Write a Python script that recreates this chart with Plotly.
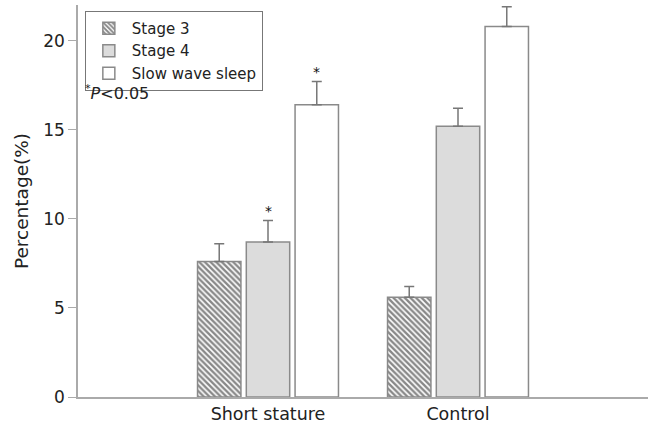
import plotly.graph_objects as go

groups = ["Short stature", "Control"]
group_x = [1, 2]
series = ["Stage 3", "Stage 4", "Slow wave sleep"]
means = {
    "Stage 3": [7.6, 5.6],
    "Stage 4": [8.7, 15.2],
    "Slow wave sleep": [16.4, 20.8],
}
errors = {
    "Stage 3": [1.0, 0.6],
    "Stage 4": [1.2, 1.0],
    "Slow wave sleep": [1.3, 1.1],
}
significant = {
    "Stage 3": [False, False],
    "Stage 4": [True, False],
    "Slow wave sleep": [True, False],
}
y_ticks = [0, 5, 10, 15, 20]

styles = {
    "Stage 3": dict(color="white", pattern=dict(shape="\\", size=4, solidity=0.6,
                                                fgcolor="#111111", bgcolor="white", fillmode="overlay")),
    "Stage 4": dict(color="#dcdcdc"),
    "Slow wave sleep": dict(color="white"),
}

BARGAP = 0.23
BARGROUPGAP = 0.11
FONT = "DejaVu Sans"

fig = go.Figure()
for s in series:
    m = styles[s]
    marker = dict(color=m["color"], line=dict(color="#8a8a8a", width=1.5))
    if "pattern" in m:
        marker["pattern"] = m["pattern"]
    fig.add_trace(go.Bar(
        name=s, x=group_x, y=means[s], marker=marker,
        error_y=dict(type="data", array=errors[s], arrayminus=[0] * len(errors[s]),
                     symmetric=False, color="#777777", thickness=1.5, width=5),
    ))

# significance stars above error bars (positions derived from group layout)
slot = (1 - BARGAP) / len(series)
for i, s in enumerate(series):
    offset = (i - (len(series) - 1) / 2) * slot
    for gx, mv, ev, sig in zip(group_x, means[s], errors[s], significant[s]):
        if sig:
            fig.add_annotation(x=gx + offset, y=mv + ev, text="*", showarrow=False,
                               yanchor="bottom", yshift=0, xref="x", yref="y",
                               font=dict(size=14, color="#111111", family=FONT))

fig.add_annotation(x=0.008, y=0.776, xref="paper", yref="paper", xanchor="left", yanchor="middle",
                   text="<sup>*</sup><i>P</i>&lt;0.05", showarrow=False,
                   font=dict(size=16, color="#222222", family=FONT))

fig.update_layout(
    width=651, height=430,
    margin=dict(l=78, r=3, t=5, b=33),
    plot_bgcolor="white", paper_bgcolor="white",
    barmode="group", bargap=BARGAP, bargroupgap=BARGROUPGAP,
    font=dict(family=FONT, size=16, color="#222222"),
    showlegend=True,
    legend=dict(x=0.012, y=0.985, xanchor="left", yanchor="top",
                bordercolor="#777777", borderwidth=1, bgcolor="white",
                font=dict(size=15, family=FONT), tracegroupgap=0, itemwidth=36),
    xaxis=dict(range=[0, 3], tickvals=group_x, ticktext=groups, showline=True,
               linecolor="#aaaaaa", linewidth=1.5, ticks="", showgrid=False, zeroline=False,
               tickfont=dict(size=17.5)),
    yaxis=dict(range=[0, 22], tickvals=y_ticks, showline=True, linecolor="#aaaaaa",
               linewidth=1.5, ticks="outside", ticklen=8, tickcolor="#aaaaaa",
               showgrid=False, zeroline=False, tickfont=dict(size=17),
               title=dict(text="Percentage(%)", font=dict(size=18.5), standoff=10)),
)

fig.write_html("out.html")
